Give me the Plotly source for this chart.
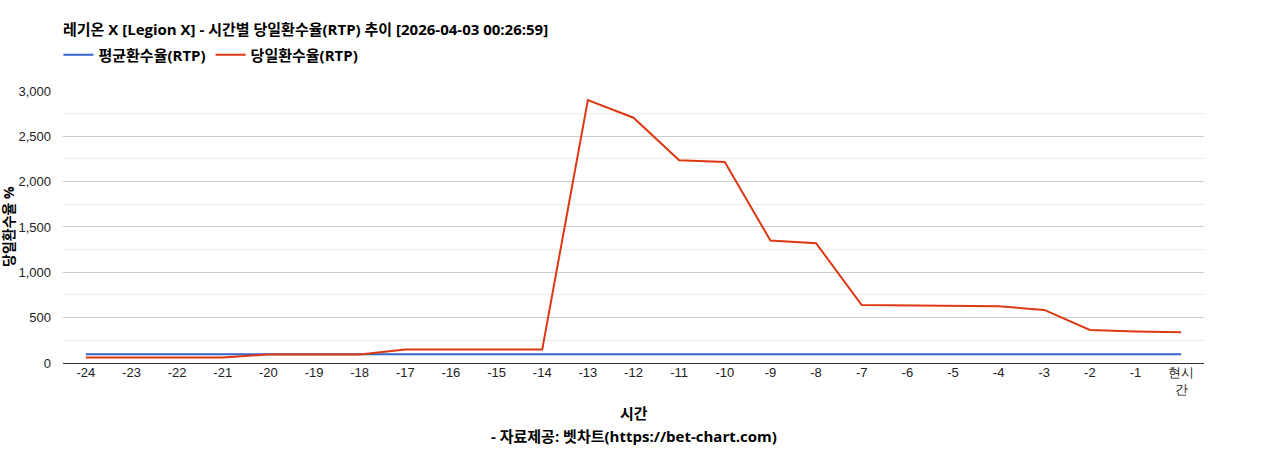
import plotly.graph_objects as go

# --- DATOS ---
hours = ["-24", "-23", "-22", "-21", "-20", "-19", "-18", "-17", "-16", "-15", "-14", "-13",
         "-12", "-11", "-10", "-9", "-8", "-7", "-6", "-5", "-4", "-3", "-2", "-1", "현시<br>간"]
avg_rtp = [97] * 25
daily_rtp = [60, 60, 60, 60, 95, 95, 95, 148, 148, 148, 148, 2900,
             2705, 2235, 2217, 1350, 1321, 639, 632, 627, 625, 585, 365, 347, 339]

TITLE = "레기온 X [Legion X] - 시간별 당일환수율(RTP) 추이 [2026-04-03 00:26:59]"
KFONT = "Open Sans, Noto Sans CJK KR"
NFONT = "Liberation Sans"

W, H = 1268, 450
ML, MR, MT, MB = 63, 64, 86, 87
PLOT_H = H - MT - MB
PLOT_W = W - ML - MR

def py(pix):
    # pixel vertical -> coordenada paper
    return (H - MB - pix) / PLOT_H

fig = go.Figure()
fig.add_trace(go.Scatter(x=hours, y=avg_rtp, mode="lines", name="평균환수율(RTP)",
                         line=dict(color="#3366cc", width=2)))
fig.add_trace(go.Scatter(x=hours, y=daily_rtp, mode="lines", name="당일환수율(RTP)",
                         line=dict(color="#dc3912", width=2)))

fig.update_layout(
    width=W, height=H,
    margin=dict(l=ML, r=MR, t=MT, b=MB),
    paper_bgcolor="white", plot_bgcolor="white",
    title=dict(text="<b>" + TITLE + "</b>", x=ML / W, xanchor="left",
               y=1 - 30 / H, yanchor="middle", font=dict(family=KFONT, size=15, color="#000")),
    legend=dict(orientation="h", x=-0.004, xanchor="left", xref="paper", y=1 - 55 / H,
                yref="container", yanchor="middle",
                font=dict(family=KFONT, size=15, color="#000", weight="bold"),
                itemwidth=30, tracegroupgap=0),
    showlegend=True,
    hovermode=False,
    font=dict(family=NFONT, size=13, color="#222"),
    annotations=[
        dict(text="<b>시간</b>", xref="paper", yref="paper", x=0.5, y=py(414),
             yanchor="middle", showarrow=False, font=dict(family=KFONT, size=15, color="#000")),
        dict(text="<b>- 자료제공: 벳차트(https://bet-chart.com)</b>", xref="paper", yref="paper",
             x=0.5, y=py(437), yanchor="middle", showarrow=False,
             font=dict(family=KFONT, size=15, color="#000")),
        dict(text="<b>당일환수율 %</b>", xref="paper", yref="paper", x=(9 - ML) / PLOT_W, y=0.5,
             xanchor="center", yanchor="middle", textangle=-90, showarrow=False,
             font=dict(family=KFONT, size=14, color="#000")),
    ],
)

fig.update_xaxes(type="category", range=[-0.5, 24.5], showgrid=False, showline=False,
                 ticks="", tickfont=dict(family=NFONT, size=13, color="#222"), fixedrange=True)
fig.update_yaxes(range=[0, 3000], tickvals=[0, 500, 1000, 1500, 2000, 2500, 3000],
                 tickformat=",", gridcolor="#cccccc", gridwidth=1, zeroline=True,
                 zerolinecolor="#333333", zerolinewidth=1, fixedrange=True,
                 minor=dict(tickvals=[250, 750, 1250, 1750, 2250, 2750], showgrid=True,
                            gridcolor="#ebebeb", gridwidth=1),
                 tickfont=dict(family=NFONT, size=13, color="#222"), ticklabelstandoff=11)

# quitar el margen por defecto del body para que la figura ocupe la ventana entera
fig.write_html("out.html", config={"displayModeBar": False},
               post_script="document.body.style.margin='0px';")
